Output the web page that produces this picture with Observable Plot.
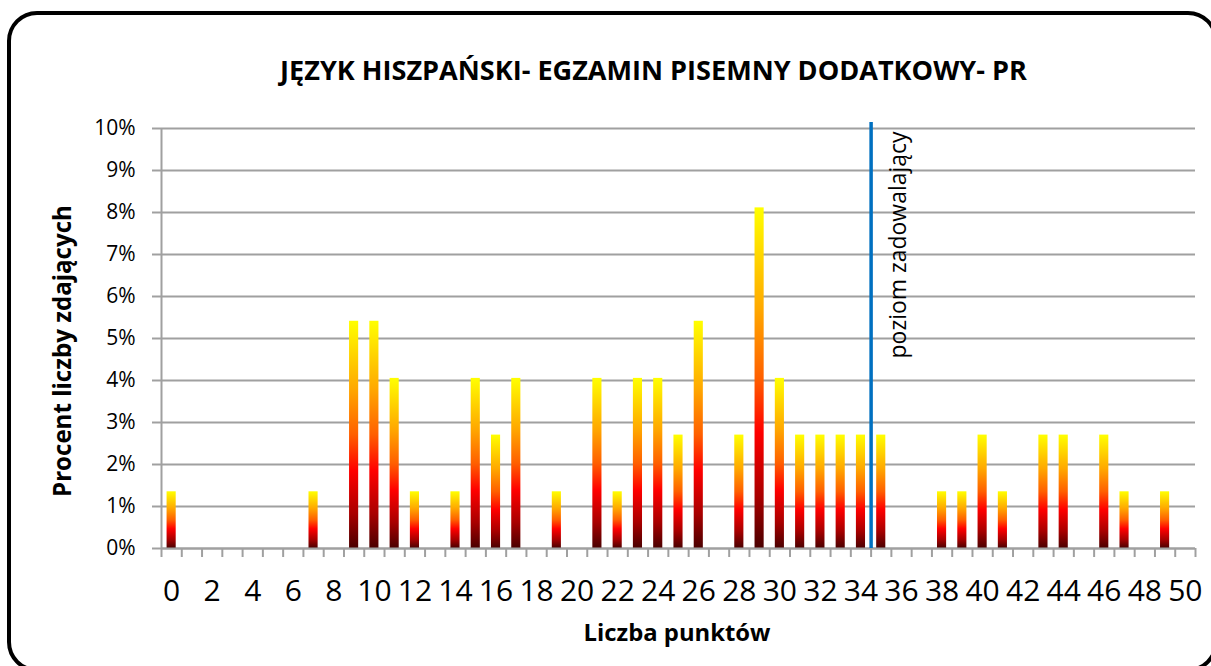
<!DOCTYPE html>
<html>
<head>
<meta charset="utf-8">
<script src="https://cdn.jsdelivr.net/npm/d3@7"></script>
<script src="https://cdn.jsdelivr.net/npm/@observablehq/plot@0.6"></script>
<style>
  body { margin: 0; background: #fff; }
  #wrap { position: relative; width: 1211px; height: 666px; overflow: hidden; background: #fff; font-family: "Open Sans", sans-serif; }
  #frame { position: absolute; left: 7px; top: 11px; width: 1211px; height: 661px; border: 4px solid #000; border-radius: 30px; box-sizing: border-box; }
  #chart { position: absolute; left: 0; top: 0; }
  .lbl { position: absolute; font-weight: bold; color: #000; white-space: nowrap; line-height: 1; }
</style>
</head>
<body>
<div id="wrap">
  <div id="frame"></div>
  <div id="chart"></div>
  <div id="title" class="lbl">JĘZYK HISZPAŃSKI- EGZAMIN PISEMNY DODATKOWY- PR</div>
  <div id="ytitle" class="lbl">Procent liczby zdających</div>
  <div id="xtitle" class="lbl">Liczba punktów</div>
</div>
<script>
// ---- data ----
const points   = [0, 7, 9, 10, 11, 12, 14, 15, 16, 17, 19, 21, 22, 23, 24, 25, 26, 28, 29, 30, 31, 32, 33, 34, 35, 38, 39, 40, 41, 43, 44, 46, 47, 49];
const percents = [1.35, 1.35, 5.41, 5.41, 4.05, 1.35, 1.35, 4.05, 2.70, 4.05, 1.35, 4.05, 1.35, 4.05, 4.05, 2.70, 5.41, 2.70, 8.11, 4.05, 2.70, 2.70, 2.70, 2.70, 2.70, 1.35, 1.35, 2.70, 1.35, 2.70, 2.70, 2.70, 1.35, 1.35];
const yTicks = [0, 1, 2, 3, 4, 5, 6, 7, 8, 9, 10];
const xLabels = [0, 2, 4, 6, 8, 10, 12, 14, 16, 18, 20, 22, 24, 26, 28, 30, 32, 34, 36, 38, 40, 42, 44, 46, 48, 50];
const xCategories = d3.range(0, 51);
const threshold = 34.5;
const thresholdLabel = "poziom zadowalający";

const data = points.map((p, i) => ({pts: p, pct: percents[i]}));
const boundaries = [...xCategories.map(c => c - 0.5), 50.5];

const FONT = "Open Sans";
const grey = "#a0a0a0";
const half = 0.225;

// fit a font size so text has target width
const ctx = document.createElement("canvas").getContext("2d");
function fitSize(text, weight, target) {
  ctx.font = `${weight} 100px "${FONT}"`;
  return 100 * target / ctx.measureText(text).width;
}

const annSize = fitSize(thresholdLabel, "normal", 227);

const chart = Plot.plot({
  width: 1211,
  height: 666,
  marginLeft: 161,
  marginRight: 16,
  marginTop: 128,
  marginBottom: 118,
  style: {fontFamily: FONT, background: "transparent", overflow: "visible"},
  x: {type: "linear", domain: [-0.5, 50.5]},
  y: {domain: [0, 10]},
  marks: [
    Plot.gridY(yTicks, {stroke: grey, strokeOpacity: 1, strokeWidth: 2}),
    Plot.axisY(yTicks, {tickFormat: d => d + "%", tickSize: 9, tickPadding: 17, stroke: grey, strokeWidth: 2, fill: "#000", fontSize: 21, label: null}),
    Plot.ruleX([-0.5], {stroke: grey, strokeWidth: 2}),
    Plot.axisX(boundaries, {tickSize: 9, tickFormat: () => "", stroke: grey, strokeWidth: 2, label: null}),
    Plot.axisX(xLabels, {tickSize: 0, tickPadding: 31, fill: "#000", fontSize: 30, label: null}),
    Plot.rectY(data, {x1: d => d.pts - half, x2: d => d.pts + half, y1: 0, y2: "pct", fill: "url(#barGrad)"}),
    Plot.ruleY([0], {stroke: grey, strokeWidth: 2}),
    Plot.ruleX([threshold], {y1: 0, y2: 10.14, stroke: "#0070C0", strokeWidth: 3.5}),
    Plot.text([thresholdLabel], {x: threshold, y: 10, rotate: -90, textAnchor: "end", dx: 28, dy: 3, fontSize: annSize, fill: "#000"})
  ]
});

const svg = d3.select(chart);
const defs = svg.insert("defs", ":first-child");
const g = defs.append("linearGradient").attr("id", "barGrad").attr("x1", 0).attr("y1", 0).attr("x2", 0).attr("y2", 1);
[[0, "#ffff00"], [0.3, "#ffa800"], [0.5, "#ff6000"], [0.66, "#ff0000"], [0.85, "#a80000"], [1, "#4a0000"]]
  .forEach(([o, c]) => g.append("stop").attr("offset", o).attr("stop-color", c));

document.getElementById("chart").appendChild(chart);

// titles
function place(id, cx, cy, target, rotate) {
  const el = document.getElementById(id);
  const size = fitSize(el.textContent, "bold", target);
  el.style.fontSize = size + "px";
  el.style.fontFamily = `"${FONT}", sans-serif`;
  const r = el.getBoundingClientRect();
  el.style.left = (cx - r.width / 2) + "px";
  el.style.top = (cy - r.height / 2) + "px";
  if (rotate) el.style.transform = `rotate(${rotate}deg)`;
}
place("title", 653.5, 70, 747);
place("ytitle", 62, 351, 292, -90);
place("xtitle", 677, 633, 187);
</script>
</body>
</html>
